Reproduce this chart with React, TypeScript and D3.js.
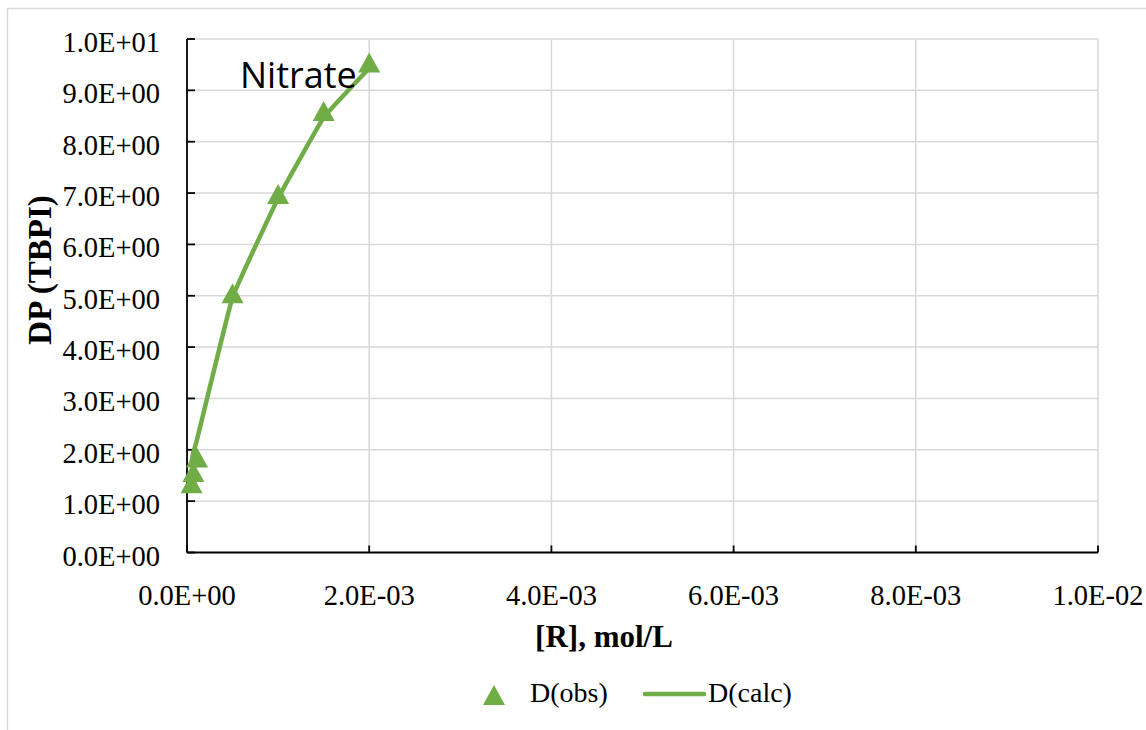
import React from "react";
import * as d3 from "d3";

const obsX = [0.00005, 0.00007, 0.00011, 0.0005, 0.001, 0.0015, 0.002];
const obsY = [1.35, 1.57, 1.85, 5.05, 6.98, 8.6, 9.54];
const calcX = [0.00005, 0.00007, 0.00011, 0.0005, 0.001, 0.0015, 0.002];
const calcY = [1.75, 1.95, 2.2, 4.97, 6.9, 8.47, 9.43];
const yTicks = [0, 1, 2, 3, 4, 5, 6, 7, 8, 9, 10];
const yTickLabels = ["0.0E+00", "1.0E+00", "2.0E+00", "3.0E+00", "4.0E+00", "5.0E+00", "6.0E+00", "7.0E+00", "8.0E+00", "9.0E+00", "1.0E+01"];
const xTicks = [0, 0.002, 0.004, 0.006, 0.008, 0.01];
const xTickLabels = ["0.0E+00", "2.0E-03", "4.0E-03", "6.0E-03", "8.0E-03", "1.0E-02"];
const seriesNames = ["D(obs)", "D(calc)"];
const chartLabel = "Nitrate";
const xTitle = "[R], mol/L";
const yTitle = "DP (TBPI)";

const GREEN = "#70ad47";
const GRID = "#d9d9d9";
const SERIF = "'Liberation Serif', 'Times New Roman', serif";

export default function App() {
  const x = d3.scaleLinear().domain([0, 0.01]).range([187, 1098]);
  const y = d3.scaleLinear().domain([0, 10]).range([552.5, 39]);
  const [x0, x1] = x.range();
  const [y0, y1] = y.range();

  const line = d3
    .line<number>()
    .x((_, i) => x(calcX[i]))
    .y((d) => y(d))
    .curve(d3.curveCardinal.tension(0.75));

  const tri = (cx: number, cy: number, w = 22, h = 20) =>
    `M${cx},${cy - h / 2}L${cx + w / 2},${cy + h / 2}L${cx - w / 2},${cy + h / 2}Z`;

  return (
    <svg
      width={1146}
      height={730}
      style={{ position: "absolute", left: 0, top: 0, background: "#fff" }}
    >
      <rect x={0} y={0} width={1146} height={730} fill="#fff" />
      <rect x={7.5} y={8.5} width={1200} height={800} fill="none" stroke={GRID} strokeWidth={1.5} />
      {/* gridlines */}
      {yTicks.slice(1).map((t) => (
        <line key={"gy" + t} x1={x0} x2={x1} y1={y(t)} y2={y(t)} stroke={GRID} strokeWidth={1.5} />
      ))}
      {xTicks.slice(1).map((t) => (
        <line key={"gx" + t} x1={x(t)} x2={x(t)} y1={y0} y2={y1} stroke={GRID} strokeWidth={1.5} />
      ))}
      {/* axes */}
      <line x1={x0} x2={x0} y1={y0} y2={y1} stroke="#000" strokeWidth={1.8} />
      <line x1={x0} x2={x1} y1={y0} y2={y0} stroke="#000" strokeWidth={1.8} />
      {yTicks.map((t) => (
        <line key={"ty" + t} x1={x0} x2={x0 + 8} y1={y(t)} y2={y(t)} stroke="#000" strokeWidth={1.8} />
      ))}
      {xTicks.map((t) => (
        <line key={"tx" + t} x1={x(t)} x2={x(t)} y1={y0} y2={y0 - 7} stroke="#000" strokeWidth={1.8} />
      ))}
      {/* tick labels */}
      {yTicks.map((t, i) => (
        <text key={"ly" + t} x={160} y={y(t) + 13} textAnchor="end" fontFamily={SERIF} fontSize={28.5} fill="#000">
          {yTickLabels[i]}
        </text>
      ))}
      {xTicks.map((t, i) => (
        <text key={"lx" + t} x={x(t)} y={605} textAnchor="middle" fontFamily={SERIF} fontSize={28.5} fill="#000">
          {xTickLabels[i]}
        </text>
      ))}
      {/* axis titles */}
      <text x={604} y={647} textAnchor="middle" fontFamily={SERIF} fontSize={31} fontWeight="bold" fill="#000">
        {xTitle}
      </text>
      <text
        transform="translate(51,270) rotate(-90)"
        textAnchor="middle"
        fontFamily={SERIF}
        fontSize={33}
        fontWeight="bold"
        fill="#000"
      >
        {yTitle}
      </text>
      {/* calc line */}
      <path d={line(calcY) || ""} fill="none" stroke={GREEN} strokeWidth={4.5} strokeLinecap="round" strokeLinejoin="round" />
      {/* obs markers */}
      {obsY.map((v, i) => (
        <path key={"m" + i} d={tri(x(obsX[i]), y(v))} fill={GREEN} />
      ))}
      {/* chart label */}
      <text x={240} y={88} fontFamily="'Open Sans', 'Noto Sans', sans-serif" fontSize={36} fill="#000">
        {chartLabel}
      </text>
      {/* legend */}
      <path d={tri(494, 695)} fill={GREEN} />
      <text x={530} y={702} fontFamily={SERIF} fontSize={28} fill="#000">
        {seriesNames[0]}
      </text>
      <line x1={645} x2={704} y1={694} y2={694} stroke={GREEN} strokeWidth={4.5} strokeLinecap="round" />
      <text x={708} y={702} fontFamily={SERIF} fontSize={28} fill="#000">
        {seriesNames[1]}
      </text>
    </svg>
  );
}
